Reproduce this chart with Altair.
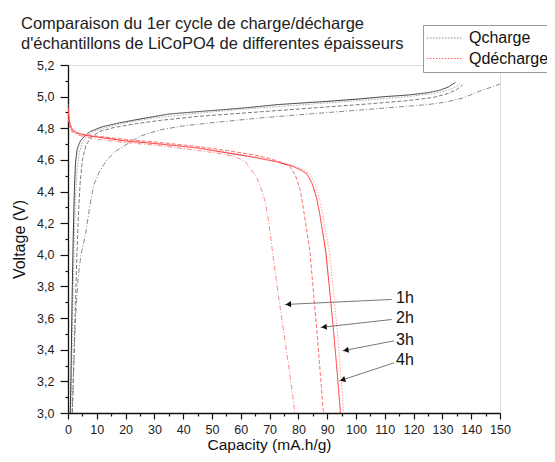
import altair as alt
import pandas as pd
import numpy as np

FONT = "Liberation Sans"

# ---------------- data ----------------
series_names = ["ch_1h", "ch_2h", "ch_3h", "ch_4h", "dis_1h", "dis_2h", "dis_3h", "dis_4h"]

# Charge curves (Qcharge)
ch_4h_cap = [0.8, 1.0, 1.2, 1.5, 1.8, 2.2, 2.6, 3.2, 4.3, 6, 7.8, 12, 18, 27, 35, 45, 52, 62, 73, 90, 101, 110, 118, 125, 129, 132, 134.5]
ch_4h_v = [3.0, 3.2, 3.45, 3.8, 4.1, 4.4, 4.58, 4.67, 4.72, 4.755, 4.78, 4.81, 4.835, 4.865, 4.89, 4.905, 4.915, 4.93, 4.95, 4.97, 4.985, 5.0, 5.01, 5.025, 5.04, 5.06, 5.09]

ch_3h_cap = [1.0, 1.3, 1.7, 2.1, 2.6, 3.2, 4.0, 5.0, 6.5, 9, 14, 20, 30, 45, 60, 75, 90, 105, 118, 127, 132, 135, 136.5]
ch_3h_v = [3.0, 3.3, 3.7, 4.05, 4.35, 4.55, 4.65, 4.71, 4.75, 4.78, 4.81, 4.835, 4.865, 4.895, 4.92, 4.94, 4.96, 4.98, 5.0, 5.02, 5.04, 5.065, 5.09]

ch_2h_cap = [1.5, 2.0, 2.5, 3.0, 3.6, 4.2, 5.0, 6.2, 8, 11, 16, 24, 32, 45, 60, 75, 90, 105, 118, 127, 132, 135, 137]
ch_2h_v = [3.0, 3.3, 3.65, 3.95, 4.25, 4.45, 4.6, 4.69, 4.745, 4.78, 4.805, 4.83, 4.85, 4.875, 4.895, 4.915, 4.935, 4.955, 4.975, 4.995, 5.02, 5.045, 5.075]

ch_1h_cap = [1.5, 2.0, 2.6, 3.5, 4.5, 6.1, 7.5, 8.9, 11, 13.5, 16.5, 20.5, 25, 32, 40, 50, 66.7, 80, 101, 115, 125, 131, 137, 143, 147, 150]
ch_1h_v = [3.0, 3.3, 3.6, 3.85, 4.0, 4.13, 4.3, 4.44, 4.53, 4.6, 4.655, 4.70, 4.75, 4.79, 4.815, 4.835, 4.865, 4.885, 4.915, 4.935, 4.95, 4.965, 4.99, 5.035, 5.06, 5.08]

# Discharge curves (Qdécharge)
dis_4h_cap = [0, 0.3, 0.8, 1.5, 3, 6, 10, 20, 32, 45, 55, 65, 72, 78, 81, 83, 84.8, 86.3, 87.3, 88.2, 89.5, 91, 92.3, 93.5, 94.6]
dis_4h_v = [4.93, 4.87, 4.82, 4.79, 4.77, 4.755, 4.745, 4.72, 4.70, 4.675, 4.645, 4.615, 4.59, 4.56, 4.535, 4.51, 4.45, 4.36, 4.27, 4.17, 4.02, 3.75, 3.5, 3.25, 3.0]

dis_3h_cap = [0, 0.3, 0.8, 1.5, 3, 6, 10, 20, 32, 45, 55, 65, 72, 78, 81.5, 84, 85.8, 87.2, 88.3, 89.3, 90.8, 92.3, 93.6, 94.7, 95.7]
dis_3h_v = [4.95, 4.88, 4.83, 4.8, 4.775, 4.76, 4.75, 4.725, 4.705, 4.68, 4.65, 4.62, 4.595, 4.565, 4.54, 4.51, 4.45, 4.36, 4.27, 4.17, 4.02, 3.75, 3.5, 3.25, 3.0]

dis_2h_cap = [0, 0.3, 0.8, 1.5, 3, 6, 10, 20, 32, 45, 55, 65, 70, 74, 77, 79, 80.5, 81.5, 82.5, 84, 85.3, 86.5, 87.6, 88.7]
dis_2h_v = [4.9, 4.84, 4.8, 4.78, 4.77, 4.76, 4.75, 4.73, 4.71, 4.685, 4.66, 4.63, 4.61, 4.585, 4.56, 4.5, 4.42, 4.32, 4.2, 4.02, 3.75, 3.5, 3.25, 3.0]

dis_1h_cap = [0, 0.3, 0.8, 1.5, 3, 6, 10, 20, 32, 45, 53, 58, 61.5, 63.5, 65.5, 67, 68.4, 69.6, 71, 73, 75, 77, 78.8]
dis_1h_v = [4.92, 4.85, 4.8, 4.775, 4.76, 4.745, 4.73, 4.71, 4.69, 4.66, 4.64, 4.62, 4.59, 4.54, 4.49, 4.42, 4.34, 4.22, 4.02, 3.75, 3.5, 3.25, 3.0]

# Annotations
ann_labels = ["1h", "2h", "3h", "4h"]
ann_text_cap = [113.9, 113.9, 113.9, 113.9]
ann_text_v = [3.729, 3.598, 3.461, 3.338]
arrow_start_cap = [112.4, 112.4, 113.2, 113.2]
arrow_start_v = [3.718, 3.591, 3.456, 3.317]
arrow_end_cap = [75.3, 87.7, 95.3, 94.2]
arrow_end_v = [3.686, 3.541, 3.393, 3.203]

legend_labels = ["Qcharge", "Qdécharge"]

x_ticks = list(range(0, 151, 5))
y_ticks = [round(3.0 + 0.1 * i, 1) for i in range(23)]

# ---------------- styling ----------------
series_colors = ["#8a8a8a", "#7a7a7a", "#a8a8a8", "#3c3c3c",
                 "#ff8a8a", "#ff7070", "#ffa0a0", "#ff2a2a"]
series_dash = [[5, 2, 1, 2], [4, 2], [1.5, 1.5], [1, 0],
               [5, 2, 1, 2], [4, 2], [1.5, 1.5], [1, 0]]

W, H = 432, 348
XMAX, YMIN, YMAX = 150.0, 3.0, 5.2

# ---------------- build tables ----------------
caps = [ch_1h_cap, ch_2h_cap, ch_3h_cap, ch_4h_cap, dis_1h_cap, dis_2h_cap, dis_3h_cap, dis_4h_cap]
vols = [ch_1h_v, ch_2h_v, ch_3h_v, ch_4h_v, dis_1h_v, dis_2h_v, dis_3h_v, dis_4h_v]
rows = []
for name, cs, vs in zip(series_names, caps, vols):
    for i, (c, v) in enumerate(zip(cs, vs)):
        rows.append({"series": name, "cap": c, "V": v, "order": i})
df = pd.DataFrame(rows)

sx = np.array(arrow_start_cap); sy = np.array(arrow_start_v)
ex = np.array(arrow_end_cap); ey = np.array(arrow_end_v)
px_dx = (sx - ex) * W / XMAX
px_dy = -(sy - ey) * H / (YMAX - YMIN)
plen = np.hypot(px_dx, px_dy)
frac = 3.5 / plen
head_x = ex + (sx - ex) * frac
head_y = ey + (sy - ey) * frac
ang = np.degrees(np.arctan2(-px_dy, -px_dx)) - 180.0
ang = np.mod(ang, 360.0)
ann = pd.DataFrame({
    "label": ann_labels, "tx": ann_text_cap, "ty": ann_text_v,
    "sx": sx, "sy": sy, "ex": ex, "ey": ey,
    "hx": head_x, "hy": head_y, "ang": ang,
})

leg_df = pd.DataFrame({"leg": legend_labels, "cap": [50.0, 50.0], "V": [4.0, 4.0]})

xscale = alt.Scale(domain=[0, XMAX], nice=False, zero=False)
yscale = alt.Scale(domain=[YMIN, YMAX], nice=False, zero=False)

xaxis = alt.Axis(
    values=x_ticks, grid=False,
    labelExpr="datum.value % 10 === 0 ? datum.label : ''",
    tickSize={"condition": {"test": "datum.value % 10 === 0", "value": 6}, "value": 3},
    labelPadding=4, labelFontSize=12.5, labelColor="#222", labelFont=FONT,
    domainColor="#111", domainWidth=1.3, tickColor="#111", tickWidth=1.2,
    title="Capacity (mA.h/g)", titleFontSize=15.5, titleFont=FONT,
    titleFontWeight="normal", titleColor="#111",
    titleX=201, titleY=36, titleAlign="center", titleBaseline="alphabetic",
    labelOverlap=False, labelFlush=False,
)
yaxis = alt.Axis(
    values=y_ticks, grid=False,
    labelExpr="round(datum.value*10) % 2 === 0 ? replace(format(datum.value, '.1f'), '.', ',') : ''",
    tickSize={"condition": {"test": "round(datum.value*10) % 2 === 0", "value": 8}, "value": 3},
    labelPadding=6, labelFontSize=12.5, labelColor="#222", labelFont=FONT,
    domainColor="#111", domainWidth=1.3, tickColor="#111", tickWidth=1.2,
    title="Voltage (V)", titleFontSize=16, titleFont=FONT,
    titleFontWeight="normal", titleColor="#111",
    titleX=-49, titleY=H / 2, titleAlign="center", titleBaseline="middle", titleAngle=270,
    labelOverlap=False, labelFlush=False,
)


def X(field):
    return alt.X(field, type="quantitative", scale=xscale, axis=xaxis)


def Y(field):
    return alt.Y(field, type="quantitative", scale=yscale, axis=yaxis)


lines = alt.Chart(df).mark_line(strokeWidth=1, clip=True).encode(
    x=X("cap"), y=Y("V"),
    color=alt.Color("series:N", scale=alt.Scale(domain=series_names, range=series_colors), legend=None),
    strokeDash=alt.StrokeDash("series:N", scale=alt.Scale(domain=series_names, range=series_dash), legend=None),
    order="order:Q",
)

legend_layer = alt.Chart(leg_df).mark_line(strokeWidth=1).encode(
    x=X("cap"), y=Y("V"),
    color=alt.Color(
        "leg:N", scale=alt.Scale(domain=legend_labels, range=["#888888", "#ff6060"]),
        legend=alt.Legend(
            title=None, orient="none", legendX=355, legendY=-40,
            strokeColor="#999999", fillColor="white", padding=3,
            symbolType="stroke", symbolSize=1300, symbolStrokeWidth=1,
            symbolDash=[1.5, 1.5], clipHeight=20, rowPadding=0.5,
            labelFontSize=16, labelFont=FONT, labelColor="#111", labelOffset=5,
            labelLimit=200,
        ),
    ),
)

arrows = alt.Chart(ann).mark_rule(color="#777777", strokeWidth=1).encode(
    x=X("sx"), y=Y("sy"), x2="ex:Q", y2="ey:Q",
)

heads = alt.Chart(ann).mark_point(shape="triangle-left", filled=True, color="#111111",
                                   size=38, opacity=1).encode(
    x=X("hx"), y=Y("hy"), angle=alt.Angle("ang:Q", scale=None),
)

texts = alt.Chart(ann).mark_text(align="left", baseline="middle", fontSize=16,
                                 font=FONT, color="#111111").encode(
    x=X("tx"), y=Y("ty"), text="label:N",
)

chart = alt.layer(lines, legend_layer, arrows, heads, texts).resolve_scale(
    color="independent"
).properties(
    width=W, height=H,
    autosize=alt.AutoSizeParams(type="none"),
    padding={"left": 60, "top": 57, "right": 47, "bottom": 41},
    title=alt.TitleParams(
        text=["Comparaison du 1er cycle de charge/décharge",
              "d'échantillons de LiCoPO4 de differentes épaisseurs"],
        anchor="start", frame="group", dx=-47, fontSize=16.5, font=FONT,
        fontWeight="normal", color="#222", lineHeight=20.5, offset=-28,
    ),
).configure_view(strokeWidth=0, stroke="transparent").configure(background="white")

chart.save("out.html", embed_options={"renderer": "svg", "actions": False})
